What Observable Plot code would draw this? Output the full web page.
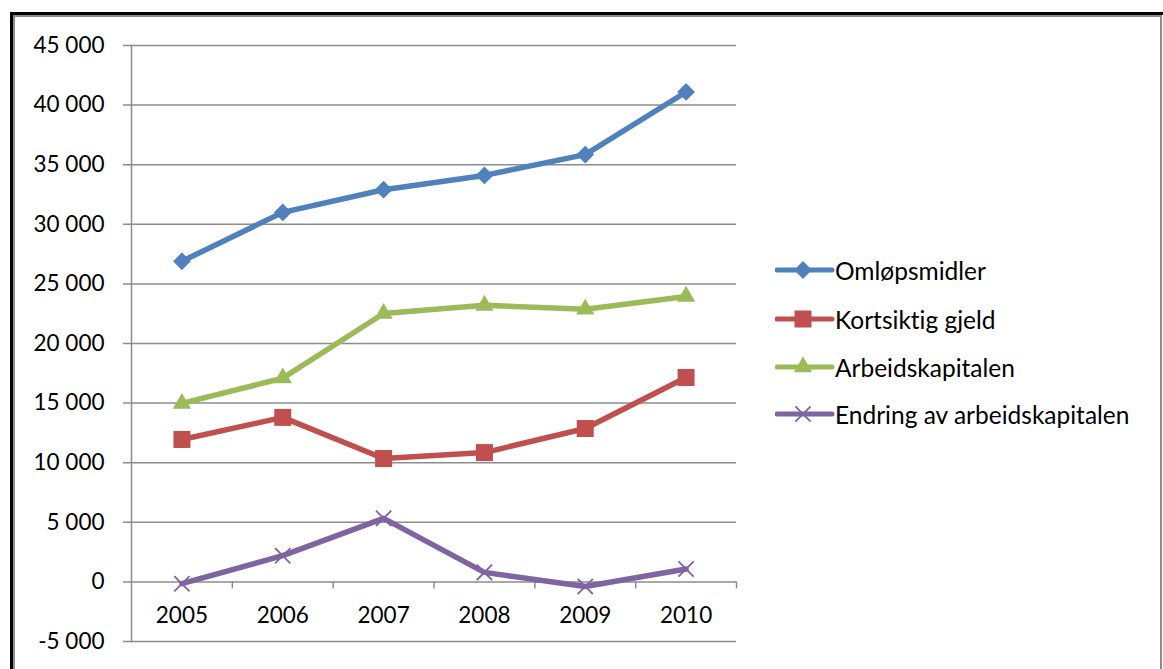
<!DOCTYPE html>
<html><head><meta charset="utf-8">
<script src="https://cdn.jsdelivr.net/npm/d3@7"></script>
<script src="https://cdn.jsdelivr.net/npm/@observablehq/plot@0.6"></script>
<style>
body{margin:0;background:#fff;}
#wrap{position:relative;width:1163px;height:669px;overflow:hidden;background:#fff;font-family:Lato,sans-serif;font-variant-ligatures:none;}
#frameA{position:absolute;left:10px;top:12px;width:1160px;height:700px;border-top:3px solid #000;border-left:3px solid #000;}
#frameB{position:absolute;left:13px;top:15px;width:1145px;height:700px;border:2px solid #8c8c8c;}
#chart{position:absolute;left:0;top:0;}
#legend{position:absolute;left:775px;top:0;}
.row{position:absolute;left:0;display:flex;align-items:center;height:30px;white-space:nowrap;font-size:24.5px;color:#000;font-variant-ligatures:none;}
.row svg{display:block;}
</style></head><body><div id="wrap"><div id="frameA"></div><div id="frameB"></div><div id="chart"></div><div id="legend"></div></div>
<script>
const years = [2005, 2006, 2007, 2008, 2009, 2010];
const omlopsmidler = [26900, 31000, 32900, 34100, 35850, 41100];
const kortsiktigGjeld = [11950, 13800, 10350, 10850, 12870, 17150];
const arbeidskapitalen = [14970, 17100, 22520, 23200, 22870, 23950];
const endring = [-150, 2200, 5330, 800, -380, 1080];
const seriesNames = ["Omløpsmidler", "Kortsiktig gjeld", "Arbeidskapitalen", "Endring av arbeidskapitalen"];
const seriesValues = [omlopsmidler, kortsiktigGjeld, arbeidskapitalen, endring];
const colors = ["#4F81BD", "#C0504D", "#9BBB59", "#8064A2"];
const symbols = ["diamond2", "square", "triangle", "times"];
const symbolR = [8, 9.6, 6.8, 7];
const yTicks = [-5000, 0, 5000, 10000, 15000, 20000, 25000, 30000, 35000, 40000, 45000];

const data = [];
seriesNames.forEach((s, k) => years.forEach((y, i) => data.push({series: s, year: y, value: seriesValues[k][i]})));

const loc = d3.formatLocale({decimal: ",", thousands: " ", grouping: [3], currency: ["", ""], minus: "-"});
const fmt = loc.format(",");
const grid = "#8c8c8c";

const marks = [
  Plot.ruleY(yTicks, {stroke: grid, strokeWidth: 1.5, insetLeft: -8}),
  Plot.frame({anchor: "left", stroke: grid, strokeWidth: 1.5}),
  Plot.ruleX(years.map(y => y + 0.5), {x: d => d, y1: 0, y2: 0, insetBottom: -7, stroke: grid, strokeWidth: 1.5}),
  Plot.axisY(yTicks, {tickSize: 0, tickPadding: 27, tickFormat: fmt, fontSize: 22.5, fill: "#000", label: null}),
  Plot.text(years, {x: d => d, y: d => 0, dy: 34, text: d => String(d), fontSize: 22.5, fill: "#000"})
];
seriesNames.forEach((s, k) => {
  const sub = data.filter(d => d.series === s);
  marks.push(Plot.line(sub, {x: "year", y: "value", stroke: colors[k], strokeWidth: 5.5, curve: "linear"}));
  if (symbols[k] === "times") {
    marks.push(Plot.dot(sub, {x: "year", y: "value", symbol: "times", r: symbolR[k], stroke: colors[k], strokeWidth: 1.8}));
  } else {
    marks.push(Plot.dot(sub, {x: "year", y: "value", symbol: symbols[k], r: symbolR[k], fill: colors[k], stroke: "none"}));
  }
});

const chart = Plot.plot({
  width: 1163, height: 669,
  marginLeft: 131, marginRight: 427, marginTop: 45, marginBottom: 28,
  x: {type: "linear", domain: [2004.5, 2010.5], axis: null},
  y: {domain: [-5000, 45000], axis: null},
  style: {fontFamily: "Lato, sans-serif", fontSize: "22px", color: "#000", background: "transparent", overflow: "visible"},
  marks
});
document.getElementById("chart").appendChild(chart);

// legend
const legendY = [270, 319, 367, 414];
const symMap = {diamond2: d3.symbolDiamond2, square: d3.symbolSquare, triangle: d3.symbolTriangle, times: d3.symbolTimes};
const leg = d3.select("#legend");
seriesNames.forEach((s, k) => {
  const row = leg.append("div").attr("class", "row").style("top", (legendY[k] - 15) + "px");
  const svg = row.append("svg").attr("width", 60).attr("height", 30);
  svg.append("line").attr("x1", 2).attr("x2", 57).attr("y1", 15).attr("y2", 15)
    .attr("stroke", colors[k]).attr("stroke-width", 5).attr("stroke-linecap", "round");
  const p = svg.append("path").attr("transform", "translate(28,15)")
    .attr("d", d3.symbol(symMap[symbols[k]], Math.PI * symbolR[k] * symbolR[k])());
  if (symbols[k] === "times") p.attr("fill", "none").attr("stroke", colors[k]).attr("stroke-width", 1.8);
  else p.attr("fill", colors[k]);
  row.append("span").text(s);
});
</script>
</body></html>
